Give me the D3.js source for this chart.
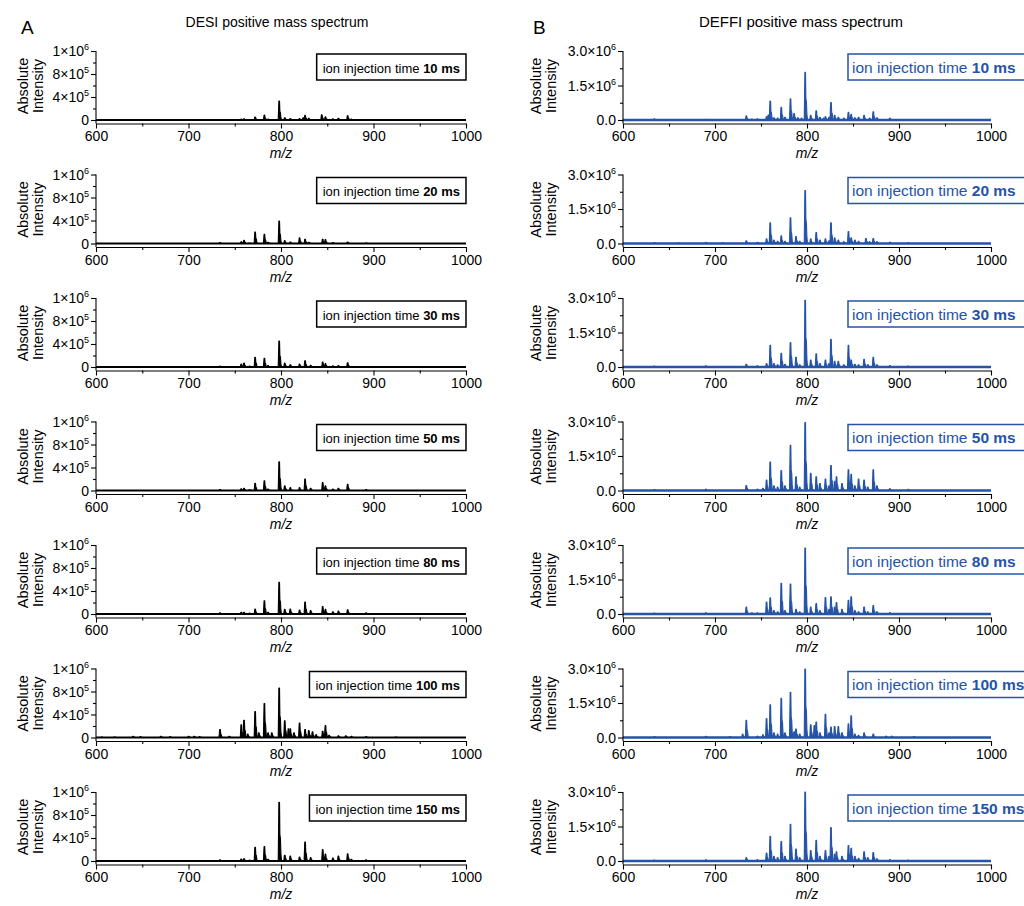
<!DOCTYPE html>
<html>
<head>
<meta charset="utf-8">
<script src="https://cdn.jsdelivr.net/npm/d3@7"></script>
<style>
  body { margin: 0; background: #fff; }
  svg { font-family: "Liberation Sans", Arial, sans-serif; }
</style>
</head>
<body>
<svg id="chart" width="1024" height="906"></svg>
<script>
// ---- data ----
var injectionTimes = [10, 20, 30, 50, 80, 100, 150];
var mzTicks = [600, 700, 800, 900, 1000];
var mzMinor = [650, 750, 850, 950];

var desiTicks = [0, 4e5, 8e5, 1.2e6];
var desiTickLabels = [["0", ""], ["4×10", "5"], ["8×10", "5"], ["1×10", "6"]];
var desiMinor = [2e5, 6e5, 1e6];

var deffiTicks = [0, 1.5e6, 3e6];
var deffiTickLabels = [["0.0", ""], ["1.5×10", "6"], ["3.0×10", "6"]];
var deffiMinor = [0.75e6, 2.25e6];

// [m/z, absolute intensity] per injection time
var desiPeaks = [
  [[734,1e4],[757,1.5e4],[760,2e4],[766,1e4],[772,5e4],[782,8.5e4],[786,1.5e4],[798,3.3e5],[804,4e4],[810,2.5e4],[820,2.5e4],[824,4e4],[826,8e4],[830,3e4],[844,9e4],[848,5.5e4],[856,2e4],[862,3e4],[872,7.5e4],[876,1.5e4],[892,1e4],[910,8e3],[922,8e3]],
  [[734,1.5e4],[757,3e4],[760,5.5e4],[766,1e4],[772,2e5],[782,1.6e5],[786,2e4],[798,3.9e5],[804,5e4],[810,2.5e4],[820,1e5],[826,7.5e4],[830,2e4],[845,7.5e4],[848,7e4],[856,1.5e4],[872,2.5e4],[892,1e4]],
  [[734,1.5e4],[757,5e4],[760,7e4],[766,1.5e4],[772,1.7e5],[782,1.5e5],[786,2.5e4],[798,4.5e5],[804,7e4],[810,4e4],[820,5e4],[826,1.1e5],[832,3e4],[845,8.5e4],[848,6e4],[856,2e4],[862,2.5e4],[872,7.5e4],[892,1e4]],
  [[734,1.5e4],[757,3e4],[760,4e4],[766,1.5e4],[772,1.25e5],[782,1.7e5],[786,2.5e4],[798,5e5],[804,8e4],[810,5e4],[820,5e4],[826,2e5],[832,4e4],[845,1.4e5],[848,8e4],[856,2.5e4],[862,4e4],[872,1.1e5],[892,1.5e4]],
  [[734,2e4],[757,3e4],[760,3e4],[766,1.5e4],[772,8.5e4],[782,2.3e5],[786,3e4],[798,5.5e5],[804,8e4],[810,8.5e4],[820,7e4],[826,2.1e5],[832,6e4],[845,1.3e5],[848,8e4],[856,4e4],[862,5e4],[872,7.5e4],[892,2e4],[910,1e4]],
  [[606,1e4],[620,1e4],[640,2e4],[648,1.5e4],[670,2e4],[680,1.5e4],[700,2e4],[706,2e4],[712,1.5e4],[734,1.4e5],[744,2e4],[757,2.2e5],[760,3e5],[764,6e4],[772,4.5e5],[776,8e4],[782,5.9e5],[786,8e4],[790,8e4],[798,8.6e5],[804,2.9e5],[808,1.5e5],[810,1.5e5],[814,8e4],[820,2.5e5],[826,1.4e5],[830,1.2e5],[834,1e5],[838,5e4],[845,1.1e5],[848,2.1e5],[852,4e4],[862,3e4],[870,3e4],[876,2e4],[892,1.5e4],[924,1e4]],
  [[734,2e4],[757,3.5e4],[760,4e4],[766,1.5e4],[772,2.4e5],[782,2.5e5],[786,3e4],[798,1.02e6],[804,1e5],[810,8.5e4],[820,7e4],[826,3.3e5],[832,6e4],[845,2e5],[848,1.2e5],[856,5e4],[862,8.5e4],[872,1.25e5],[876,3e4],[892,2e4]]
];

var deffiPeaks = [
  [[634,5e4],[690,3e4],[734,1.8e5],[740,4e4],[746,5e4],[756,1.5e5],[758,2.2e5],[760,8.2e5],[764,1e5],[768,8e4],[772,5.5e5],[776,1.2e5],[782,9.2e5],[786,2.8e5],[790,1e5],[794,8e4],[798,2.07e6],[804,2e5],[810,4e5],[814,1.2e5],[818,8e4],[820,1.5e5],[824,1.2e5],[826,7.6e5],[830,2e5],[834,1.2e5],[840,8e4],[845,3.3e5],[848,2.5e5],[852,1e5],[856,1.2e5],[862,2e5],[868,8e4],[872,3.6e5],[876,1e5],[890,8e4]],
  [[634,4e4],[660,3e4],[690,5e4],[708,4e4],[734,1.2e5],[746,5e4],[756,2e5],[760,9e5],[764,1.5e5],[768,1e5],[772,3.3e5],[776,1e5],[782,1.12e6],[788,3e5],[792,1e5],[798,2.3e6],[804,2e5],[810,4.8e5],[814,1.5e5],[820,2e5],[824,1.2e5],[826,9e5],[830,2.5e5],[834,1.5e5],[840,8e4],[845,5.2e5],[848,2.5e5],[852,1.5e5],[856,1e5],[864,2.2e5],[868,8e4],[872,2.2e5],[876,8e4],[890,6e4],[910,4e4]],
  [[634,4e4],[690,5e4],[734,1.2e5],[746,5e4],[756,1.5e5],[760,9.4e5],[764,1.5e5],[768,1e5],[772,6e5],[776,1.2e5],[782,1.06e6],[788,4.2e5],[792,1e5],[798,2.9e6],[804,3e5],[810,5.7e5],[814,1.5e5],[820,3e5],[824,1.5e5],[826,1.2e6],[830,2.5e5],[834,2.5e5],[840,1e5],[845,9.4e5],[848,3e5],[852,1.2e5],[856,1e5],[862,3.4e5],[866,1e5],[872,4.2e5],[876,1e5],[890,6e4],[910,4e4]],
  [[634,4e4],[690,6e4],[734,2.2e5],[746,6e4],[752,1e5],[756,4.5e5],[760,1.24e6],[764,2e5],[768,1.5e5],[772,8.7e5],[776,2e5],[782,1.97e6],[788,6e5],[792,1.5e5],[798,2.95e6],[804,7.5e5],[810,6e5],[814,3e5],[820,5e5],[824,2e5],[826,1.09e6],[830,4e5],[832,6e5],[838,3e5],[845,9e5],[848,7e5],[852,2e5],[856,5e5],[862,4.5e5],[866,1.5e5],[872,9e5],[876,2e5],[890,8e4],[910,5e4]],
  [[634,4e4],[690,5e4],[734,3e5],[740,5e4],[746,5e4],[756,5.2e5],[760,7e5],[764,1.5e5],[768,1e5],[772,1.34e6],[776,1.5e5],[782,1.3e6],[788,2e5],[792,1e5],[798,2.87e6],[804,3e5],[810,4.5e5],[814,1.5e5],[820,7.2e5],[824,2e5],[826,7.5e5],[830,3e5],[832,5e5],[838,2e5],[845,6e5],[848,7.5e5],[852,1.5e5],[856,1e5],[862,3e5],[866,1e5],[872,3.7e5],[876,1e5],[890,6e4]],
  [[634,4e4],[690,5e4],[716,4e4],[730,1.5e5],[734,7.5e5],[746,6e4],[752,1.2e5],[756,8.2e5],[760,1.42e6],[764,2e5],[768,1.5e5],[772,1.7e6],[776,2e5],[782,1.97e6],[786,2.5e5],[788,3.7e5],[792,1.5e5],[798,2.98e6],[804,5.5e5],[808,5.2e5],[810,6.7e5],[814,2e5],[820,1.01e6],[824,2e5],[826,4.5e5],[830,4.8e5],[834,4.8e5],[838,2e5],[845,6e5],[848,9.4e5],[852,1.5e5],[856,1e5],[862,2e5],[872,1.5e5],[886,6e4],[892,6e4],[916,4e4]],
  [[634,4e4],[690,5e4],[734,1.5e5],[746,6e4],[756,3.5e5],[760,1.07e6],[764,2e5],[768,1.5e5],[772,8.5e5],[776,2e5],[782,1.6e6],[788,5.2e5],[792,1.5e5],[798,3e6],[804,4.5e5],[810,9e5],[814,2e5],[820,4.5e5],[824,2e5],[826,1.45e6],[830,3e5],[832,4e5],[838,2e5],[845,6.7e5],[848,5.5e5],[852,2e5],[856,1.2e5],[862,4e5],[866,1.5e5],[872,3.7e5],[876,1e5],[890,6e4],[910,4e4]]
];

// ---- layout ----
var svg = d3.select("#chart");
var BLUE = "#2553a8";
var base0 = 120, step = 123.5, plotH = 69, axisGap = 3.5;

var columns = [
  { key: "A", title: "DESI positive mass spectrum", titleX: 277, titleSize: 14, letterX: 21,
    x0: 96, x1: 466, color: "#000", peaks: desiPeaks, ticks: desiTicks, labels: desiTickLabels,
    minor: desiMinor, ymax: 1.2e6, lab1: 28, lab2: 43, boxFont: 13 },
  { key: "B", title: "DEFFI positive mass spectrum", titleX: 801, titleSize: 15, letterX: 533,
    x0: 623, x1: 991, color: BLUE, peaks: deffiPeaks, ticks: deffiTicks, labels: deffiTickLabels,
    minor: deffiMinor, ymax: 3e6, lab1: 541, lab2: 556, boxFont: 15.5 }
];

columns.forEach(function(col) {
  svg.append("text").attr("x", col.titleX).attr("y", 27)
    .attr("text-anchor", "middle").attr("font-size", col.titleSize).text(col.title);
  svg.append("text").attr("x", col.letterX).attr("y", 34)
    .attr("font-size", 19).text(col.key);

  var x = d3.scaleLinear().domain([600, 1000]).range([col.x0, col.x1]);

  injectionTimes.forEach(function(t, i) {
    var base = base0 + i * step;
    var y = d3.scaleLinear().domain([0, col.ymax]).range([base, base - plotH]);
    var g = svg.append("g");

    // peaks (each stick drawn as a narrow peak with a small isotope shoulder)
    var area = d3.area().x(function(d){ return x(d[0]); }).y0(y(0)).y1(function(d){ return y(d[1]); });
    g.selectAll("path.peak").data(col.peaks[i]).enter().append("path")
      .attr("class", "peak")
      .attr("fill", col.color).attr("stroke", col.color).attr("stroke-width", 1.1)
      .attr("stroke-linejoin", "round")
      .attr("d", function(p) {
        var mz = p[0], h = p[1];
        return area([[mz - 1.0, 0], [mz - 0.3, h], [mz + 0.4, h], [mz + 0.8, h * 0.45],
                     [mz + 1.4, h * 0.38], [mz + 1.9, h * 0.12], [mz + 2.6, 0]]);
      });
    // spectrum baseline
    g.append("line").attr("x1", x(600)).attr("x2", x(1000))
      .attr("y1", y(0)).attr("y2", y(0))
      .attr("stroke", col.color).attr("stroke-width", col.key === "A" ? 2 : 2.5);

    // x axis
    var ay = base + axisGap;
    var xa = g.append("g").attr("transform", "translate(0," + ay + ")")
      .call(d3.axisBottom(x).tickValues(mzTicks).tickSize(5).tickSizeOuter(0)
        .tickPadding(3).tickFormat(d3.format("d")));
    xa.append("g").call(d3.axisBottom(x).tickValues(mzMinor).tickSize(3).tickFormat(""))
      .select(".domain").remove();
    xa.selectAll("text").attr("font-size", 14).attr("fill", "#000")
      .attr("font-family", '"Liberation Sans", Arial, sans-serif');
    xa.selectAll("line, .domain").attr("stroke", "#000").attr("stroke-width", 1.1);

    // y axis
    var ya = g.append("g").attr("transform", "translate(" + col.x0 + ",0)");
    ya.call(d3.axisLeft(y).tickValues(col.ticks).tickSize(5).tickFormat(""))
      .select(".domain").remove();
    ya.append("g").call(d3.axisLeft(y).tickValues(col.minor).tickSize(3).tickFormat(""))
      .select(".domain").remove();
    ya.append("line").attr("x1", 0).attr("x2", 0)
      .attr("y1", y(col.ymax)).attr("y2", ay);
    ya.selectAll("line").attr("stroke", "#000").attr("stroke-width", 1.1);
    col.ticks.forEach(function(v, k) {
      var tx = ya.append("text").attr("x", -7).attr("y", y(v) + 5)
        .attr("text-anchor", "end").attr("font-size", 14).attr("fill", "#000");
      tx.append("tspan").text(col.labels[k][0]);
      if (col.labels[k][1]) tx.append("tspan").attr("dy", -6).attr("font-size", 9).text(col.labels[k][1]);
    });

    // axis titles
    g.append("text").attr("transform", "translate(" + ((col.x0 + col.x1) / 2) + "," + (base + 38) + ")")
      .attr("text-anchor", "middle").attr("font-size", 14).attr("font-style", "italic").text("m/z");
    [["Absolute", col.lab1], ["Intensity", col.lab2]].forEach(function(l) {
      g.append("text").attr("transform", "translate(" + l[1] + "," + (base - 34) + ") rotate(-90)")
        .attr("text-anchor", "middle").attr("font-size", 14.5).text(l[0]);
    });

    // injection time box: A boxes fit the text and end at the axis end, B boxes start at 848
    var by = base - 66;
    var rect = g.append("rect").attr("y", by).attr("height", 26)
      .attr("fill", "#fff").attr("stroke", col.color).attr("stroke-width", 1.5);
    var bt = g.append("text").attr("y", by + 18.5)
      .attr("font-size", col.boxFont).attr("fill", col.color);
    bt.append("tspan").text("ion injection time ");
    bt.append("tspan").attr("font-weight", "bold").text(t + " ms");
    var tw = bt.node().getComputedTextLength();
    if (col.key === "A") {
      var bx = col.x1 - tw - 12;
      rect.attr("x", bx).attr("width", tw + 12);
      bt.attr("x", bx + 6);
    } else {
      rect.attr("x", 848).attr("width", 200);
      bt.attr("x", 852);
    }
  });
});
</script>
</body>
</html>
